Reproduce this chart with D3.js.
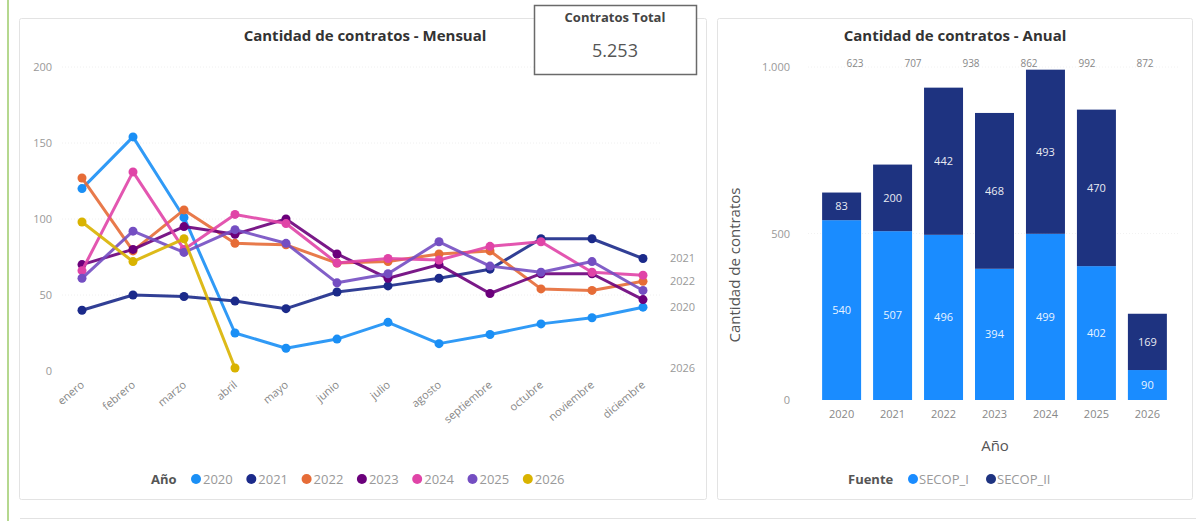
<!DOCTYPE html>
<html><head><meta charset="utf-8">
<script src="https://cdn.jsdelivr.net/npm/d3@7/dist/d3.min.js"></script>
<style>
html,body{margin:0;padding:0;background:#fff;}
svg text{font-family:"Open Sans","Noto Sans",sans-serif;}
</style></head>
<body><svg id="c" width="1199" height="521"></svg>
<script>
// ---------- DATA ----------
const months = ["enero","febrero","marzo","abril","mayo","junio","julio","agosto","septiembre","octubre","noviembre","diciembre"];
const lineYears = ["2020","2021","2022","2023","2024","2025","2026"];
const v2020 = [120,154,101,25,15,21,32,18,24,31,35,42];
const v2021 = [40,50,49,46,41,52,56,61,67,87,87,74];
const v2022 = [127,79,106,84,83,71,72,77,79,54,53,59];
const v2023 = [70,80,95,90,100,77,61,70,51,64,64,47];
const v2024 = [66,131,80,103,97,71,74,73,82,85,65,63];
const v2025 = [61,92,78,93,84,58,64,85,69,65,72,53];
const v2026 = [98,72,87,2];
const lineTicks = [0,50,100,150,200];
const endLabelYears = ["2021","2022","2020","2026"];

const barYears = ["2020","2021","2022","2023","2024","2025","2026"];
const secopI  = [540,507,496,394,499,402,90];
const secopII = [83,200,442,468,493,470,169];
const barTicks = [0,500,1000];
const totalLabels = ["623","707","938","862","992","872"];
const kpiTitle = "Contratos Total";
const kpiValue = "5.253";

// ---------- STYLE ----------
const lineColors = {"2020":"#1A8FF5","2021":"#1B2A8A","2022":"#E66C37","2023":"#6B007B","2024":"#E044A7","2025":"#744EC2","2026":"#D9B300"};
const srcColors = {"SECOP_I":"#1A8CFF","SECOP_II":"#1E3380"};
const series = [v2020,v2021,v2022,v2023,v2024,v2025,v2026].map((v,i)=>({year:lineYears[i],values:v}));

const svg = d3.select("#c");

// page decorations
svg.append("rect").attr("x",7).attr("y",0).attr("width",2).attr("height",521).attr("fill","#b5d88f");
svg.append("line").attr("x1",20).attr("x2",1196).attr("y1",518.5).attr("y2",518.5).attr("stroke","#e2e2e2");
// panels
svg.append("rect").attr("x",19.5).attr("y",18.5).attr("width",687).attr("height",481).attr("fill","#fff").attr("stroke","#e3e3e3").attr("rx",2);
svg.append("rect").attr("x",717.5).attr("y",18.5).attr("width",475).attr("height",481).attr("fill","#fff").attr("stroke","#e3e3e3").attr("rx",2);

// ---------- LINE CHART ----------
const x = d3.scalePoint().domain(months).range([82,643]);
const y = d3.scaleLinear().domain([0,200]).range([371,67]);

svg.append("text").attr("x",365).attr("y",41).attr("text-anchor","middle")
  .attr("font-size",15).attr("font-weight",700).attr("fill","#333").text("Cantidad de contratos - Mensual");

// grid
svg.append("g").selectAll("line").data(lineTicks.filter(d=>d>0)).join("line")
  .attr("x1",62).attr("x2",660).attr("y1",d=>y(d)).attr("y2",d=>y(d))
  .attr("stroke","#f0f0f0").attr("stroke-dasharray","1,2");

const yAx = svg.append("g").attr("transform","translate(52,0)")
  .call(d3.axisLeft(y).tickValues(lineTicks).tickSize(0).tickPadding(0).tickFormat(d3.format("d")));
yAx.select(".domain").remove();
yAx.selectAll("text").attr("font-size",11).attr("fill","#999").attr("font-family","Open Sans");

const xAx = svg.append("g").attr("transform","translate(0,377)")
  .call(d3.axisBottom(x).tickSize(0).tickPadding(0));
xAx.select(".domain").remove();
xAx.selectAll("text").attr("font-size",11).attr("fill","#888").attr("font-family","Open Sans")
  .attr("text-anchor","end").attr("dy","0.35em").attr("dx","0")
  .attr("transform","translate(0,6) rotate(-40)");

const lineGen = d3.line().x((d,i)=>x(months[i])).y(d=>y(d));
const gS = svg.append("g").selectAll("g").data(series).join("g");
gS.append("path").attr("d",d=>lineGen(d.values)).attr("fill","none")
  .attr("stroke",d=>lineColors[d.year]).attr("stroke-width",3).attr("stroke-linejoin","round").attr("opacity",0.9);
gS.selectAll("circle").data(d=>d.values.map((v,i)=>({v,i,year:d.year}))).join("circle")
  .attr("cx",d=>x(months[d.i])).attr("cy",d=>y(d.v)).attr("r",4.5).attr("fill",d=>lineColors[d.year]);

// end labels
svg.append("g").selectAll("text").data(series.filter(s=>endLabelYears.includes(s.year))).join("text")
  .attr("x",670).attr("y",d=>y(d.values[d.values.length-1])).attr("dy","0.35em")
  .attr("font-size",11).attr("fill","#999").text(d=>d.year);

// legend
const lg = svg.append("g").attr("transform","translate(151,479)");
lg.append("text").attr("x",0).attr("y",0).attr("dy","0.35em").attr("font-size",13).attr("font-weight",700).attr("fill","#555").text("Año");
const li = lg.selectAll("g.it").data(lineYears).join("g").attr("class","it")
  .attr("transform",(d,i)=>`translate(${45+i*55.3},0)`);
li.append("circle").attr("r",5).attr("cx",0).attr("cy",0).attr("fill",d=>lineColors[d]);
li.append("text").attr("x",7).attr("dy","0.35em").attr("font-size",13).attr("fill","#999").text(d=>d);

// KPI card
svg.append("rect").attr("x",534.5).attr("y",5.5).attr("width",162).attr("height",69).attr("fill","#fff").attr("stroke","#6a6a6a").attr("stroke-width",1.5);
svg.append("text").attr("x",615).attr("y",22).attr("text-anchor","middle").attr("font-size",13).attr("font-weight",700).attr("fill","#444").attr("font-family","Liberation Sans").text(kpiTitle);
svg.append("text").attr("x",615).attr("y",57).attr("text-anchor","middle").attr("font-size",18).attr("fill","#555").attr("font-family","Liberation Sans").text(kpiValue);

// ---------- BAR CHART ----------
const xb = d3.scaleBand().domain(barYears).range([816,1173]).paddingInner(0.235).paddingOuter(0.12);
const yb = d3.scaleLinear().domain([0,1000]).range([400,67]);

svg.append("text").attr("x",955).attr("y",41).attr("text-anchor","middle")
  .attr("font-size",15).attr("font-weight",700).attr("fill","#333").text("Cantidad de contratos - Anual");

const ybAx = svg.append("g").attr("transform","translate(790,0)")
  .call(d3.axisLeft(yb).tickValues(barTicks).tickSize(0).tickPadding(0).tickFormat(d=>d3.format(",")(d).replace(",",".")));
ybAx.select(".domain").remove();
ybAx.selectAll("text").attr("font-size",11).attr("fill","#999").attr("font-family","Open Sans");

svg.append("g").selectAll("line").data(barTicks.filter(d=>d>0)).join("line")
  .attr("x1",808).attr("x2",1178).attr("y1",d=>yb(d)).attr("y2",d=>yb(d))
  .attr("stroke","#f2f2f2").attr("stroke-dasharray","1,2");

const xbAx = svg.append("g").attr("transform","translate(0,410)")
  .call(d3.axisBottom(xb).tickSize(0).tickPadding(0));
xbAx.select(".domain").remove();
xbAx.selectAll("text").attr("font-size",11).attr("fill","#888").attr("font-family","Open Sans").attr("dy","0.71em");

const stackData = barYears.map((yr,i)=>({year:yr,SECOP_I:secopI[i],SECOP_II:secopII[i]}));
const stacked = d3.stack().keys(["SECOP_I","SECOP_II"])(stackData);
const layers = svg.append("g").selectAll("g").data(stacked).join("g").attr("fill",d=>srcColors[d.key]);
layers.selectAll("rect").data(d=>d).join("rect")
  .attr("x",d=>xb(d.data.year)).attr("width",xb.bandwidth())
  .attr("y",d=>yb(d[1])).attr("height",d=>yb(d[0])-yb(d[1]));
layers.selectAll("text").data(d=>d).join("text")
  .attr("x",d=>xb(d.data.year)+xb.bandwidth()/2).attr("y",d=>(yb(d[0])+yb(d[1]))/2).attr("dy","0.35em")
  .attr("text-anchor","middle").attr("font-size",11).attr("fill","#fff").attr("opacity",0.9)
  .text(d=>d[1]-d[0]);

// totals row (as shown, shifted across top)
const xt = d3.scalePoint().domain(totalLabels.map((d,i)=>i)).range([855,1145]);
svg.append("g").selectAll("text").data(totalLabels).join("text")
  .attr("x",(d,i)=>xt(i)).attr("y",yb(1000)-4).attr("dy","0.35em").attr("text-anchor","middle")
  .attr("font-size",10).attr("fill","#888").text(d=>d);

svg.append("text").attr("transform","translate(740,265) rotate(-90)").attr("text-anchor","middle")
  .attr("font-size",15).attr("fill","#555").text("Cantidad de contratos");
svg.append("text").attr("x",995).attr("y",446).attr("dy","0.35em").attr("text-anchor","middle")
  .attr("font-size",15).attr("fill","#555").text("Año");

const lb = svg.append("g").attr("transform","translate(848,479)");
lb.append("text").attr("dy","0.35em").attr("font-size",13).attr("font-weight",700).attr("fill","#555").text("Fuente");
const lbi = lb.selectAll("g.it").data(["SECOP_I","SECOP_II"]).join("g").attr("class","it")
  .attr("transform",(d,i)=>`translate(${65+i*78},0)`);
lbi.append("circle").attr("r",5).attr("fill",d=>srcColors[d]);
lbi.append("text").attr("x",6).attr("dy","0.35em").attr("font-size",13).attr("fill","#999").text(d=>d);
</script></body></html>
